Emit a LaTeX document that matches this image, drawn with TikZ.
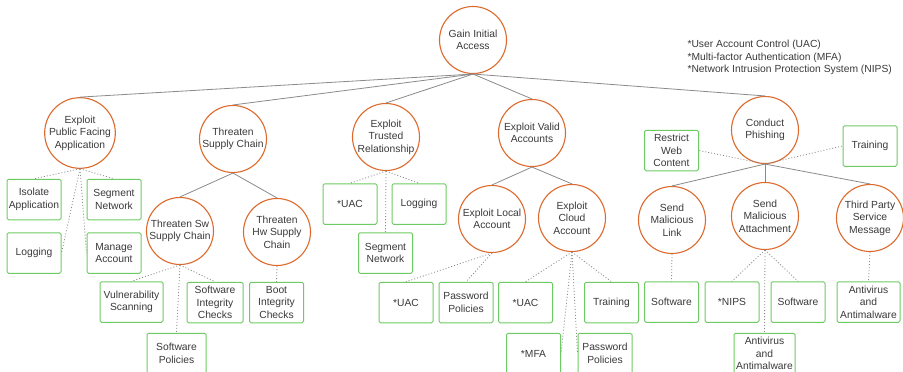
\documentclass[tikz,border=0pt]{standalone}
\usepackage{fontspec}
\setmainfont{Liberation Sans}
\definecolor{goalorange}{HTML}{DD6A2C}
\definecolor{ctrlgreen}{HTML}{6CCB62}
\definecolor{linkgray}{HTML}{8A8A8A}
\definecolor{txtgray}{HTML}{3A3A3A}
\begin{document}
\begin{tikzpicture}[x=1pt,y=-1pt,
  every node/.style={font=\fontsize{10.3}{12.5}\selectfont, text=txtgray, align=center},
  goal/.style={circle, draw=goalorange, line width=1.1pt, minimum size=67pt, inner sep=0pt, fill=white},
  ctrl/.style={rectangle, rounded corners=1.5pt, draw=ctrlgreen, line width=1pt, minimum width=54pt, minimum height=40.5pt, inner sep=1pt, fill=white},
  tree/.style={draw=linkgray, line width=0.8pt},
  mitig/.style={draw=linkgray, line width=0.8pt, dash pattern=on 1pt off 2pt}
]
\useasboundingbox (0,0) rectangle (903,372);

% attack goals
\node[goal] (root) at (473,40) {Gain Initial\\Access};
\node[goal] (epf) at (80,133) {Exploit\\Public Facing\\Application};
\node[goal] (tsc) at (233,139) {Threaten\\Supply Chain};
\node[goal] (etr) at (386,137) {Exploit\\Trusted\\Relationship};
\node[goal] (eva) at (532,133) {Exploit Valid\\Accounts};
\node[goal] (cph) at (765,130) {Conduct\\Phishing};
\node[goal] (tsw) at (180,231) {Threaten Sw\\Supply Chain};
\node[goal] (thw) at (277,232) {Threaten\\Hw Supply\\Chain};
\node[goal] (ela) at (492,219) {Exploit Local\\Account};
\node[goal] (eca) at (572,218) {Exploit\\Cloud\\Account};
\node[goal] (sml) at (672,220) {Send\\Malicious\\Link};
\node[goal] (sma) at (765,216) {Send\\Malicious\\Attachment};
\node[goal] (tps) at (870,218) {Third Party\\Service\\Message};

% mitigations
\node[ctrl] (iso) at (34,199.5) {Isolate\\Application};
\node[ctrl] (seg1) at (114,199.5) {Segment\\Network};
\node[ctrl] (log1) at (34,253) {Logging};
\node[ctrl] (man) at (114,253) {Manage\\Account};
\node[ctrl, minimum width=63pt] (vul) at (131.5,302) {Vulnerability\\Scanning};
\node[ctrl, minimum width=56pt] (sic) at (215,302.5) {Software\\Integrity\\Checks};
\node[ctrl] (bic) at (276.5,302.5) {Boot\\Integrity\\Checks};
\node[ctrl, minimum width=59pt] (spo) at (176.5,353.5) {Software\\Policies};
\node[ctrl] (uac1) at (350,204) {*UAC};
\node[ctrl] (log2) at (419,204) {Logging};
\node[ctrl] (seg2) at (385.5,253) {Segment\\Network};
\node[ctrl] (uac2) at (406,302.5) {*UAC};
\node[ctrl] (pwp1) at (466,302.5) {Password\\Policies};
\node[ctrl] (uac3) at (525.5,302.5) {*UAC};
\node[ctrl] (trn1) at (611.5,302.5) {Training};
\node[ctrl] (mfa) at (533.5,353.5) {*MFA};
\node[ctrl] (pwp2) at (605,353.5) {Password\\Policies};
\node[ctrl] (rwc) at (671.5,150.5) {Restrict\\Web\\Content};
\node[ctrl] (trn2) at (870,146) {Training};
\node[ctrl] (sw1) at (671.5,302) {Software};
\node[ctrl] (nips) at (732,302) {*NIPS};
\node[ctrl] (sw2) at (798,302) {Software};
\node[ctrl, minimum width=63pt] (av1) at (868.5,302) {Antivirus\\and\\Antimalware};
\node[ctrl, minimum width=61pt] (av2) at (764.5,353.5) {Antivirus\\and\\Antimalware};

% legend
\node[anchor=north west, align=left] (legend) at (684,37)
  {*User Account Control (UAC)\\*Multi-factor Authentication (MFA)\\*Network Intrusion Protection System (NIPS)};

% goal decomposition
\begin{scope}[on background layer/.try]
\foreach \c in {epf,tsc,etr,eva,cph} \draw[tree] (root.south) -- (\c.north);
\draw[tree] (tsc.south) -- (tsw.north);
\draw[tree] (tsc.south) -- (thw.north);
\draw[tree] (eva.south) -- (ela.north);
\draw[tree] (eva.south) -- (eca.north);
\draw[tree] (cph.south) -- (sml.north);
\draw[tree] (cph.south) -- (sma.north);
\draw[tree] (cph.south) -- (tps.north);

% mitigation links
\draw[mitig] (epf.south) -- (iso.north);
\draw[mitig] (epf.south) -- (seg1.north);
\draw[mitig] (epf.south) -- (log1.east);
\draw[mitig] (epf.south) -- (man.west);
\draw[mitig] (tsw.south) -- (vul.north);
\draw[mitig] (tsw.south) -- (sic.north);
\draw[mitig] (tsw.south) -- (spo.north);
\draw[mitig] (thw.south) -- (bic.north);
\draw[mitig] (etr.south) -- (uac1.north);
\draw[mitig] (etr.south) -- (log2.north);
\draw[mitig] (etr.south) -- (seg2.north);
\draw[mitig] (ela.south) -- (uac2.north);
\draw[mitig] (ela.south) -- (pwp1.north);
\draw[mitig] (eca.south) -- (uac3.north);
\draw[mitig] (eca.south) -- (trn1.north);
\draw[mitig] (eca.south) -- (mfa.east);
\draw[mitig] (eca.south) -- (pwp2.west);
\draw[mitig] (cph.south) -- (rwc.east);
\draw[mitig] (cph.south) -- (trn2.west);
\draw[mitig] (sml.south) -- (sw1.north);
\draw[mitig] (sma.south) -- (nips.north);
\draw[mitig] (sma.south) -- (sw2.north);
\draw[mitig] (sma.south) -- (av2.north);
\draw[mitig] (tps.south) -- (av1.north);
\end{scope}
\end{tikzpicture}
\end{document}
